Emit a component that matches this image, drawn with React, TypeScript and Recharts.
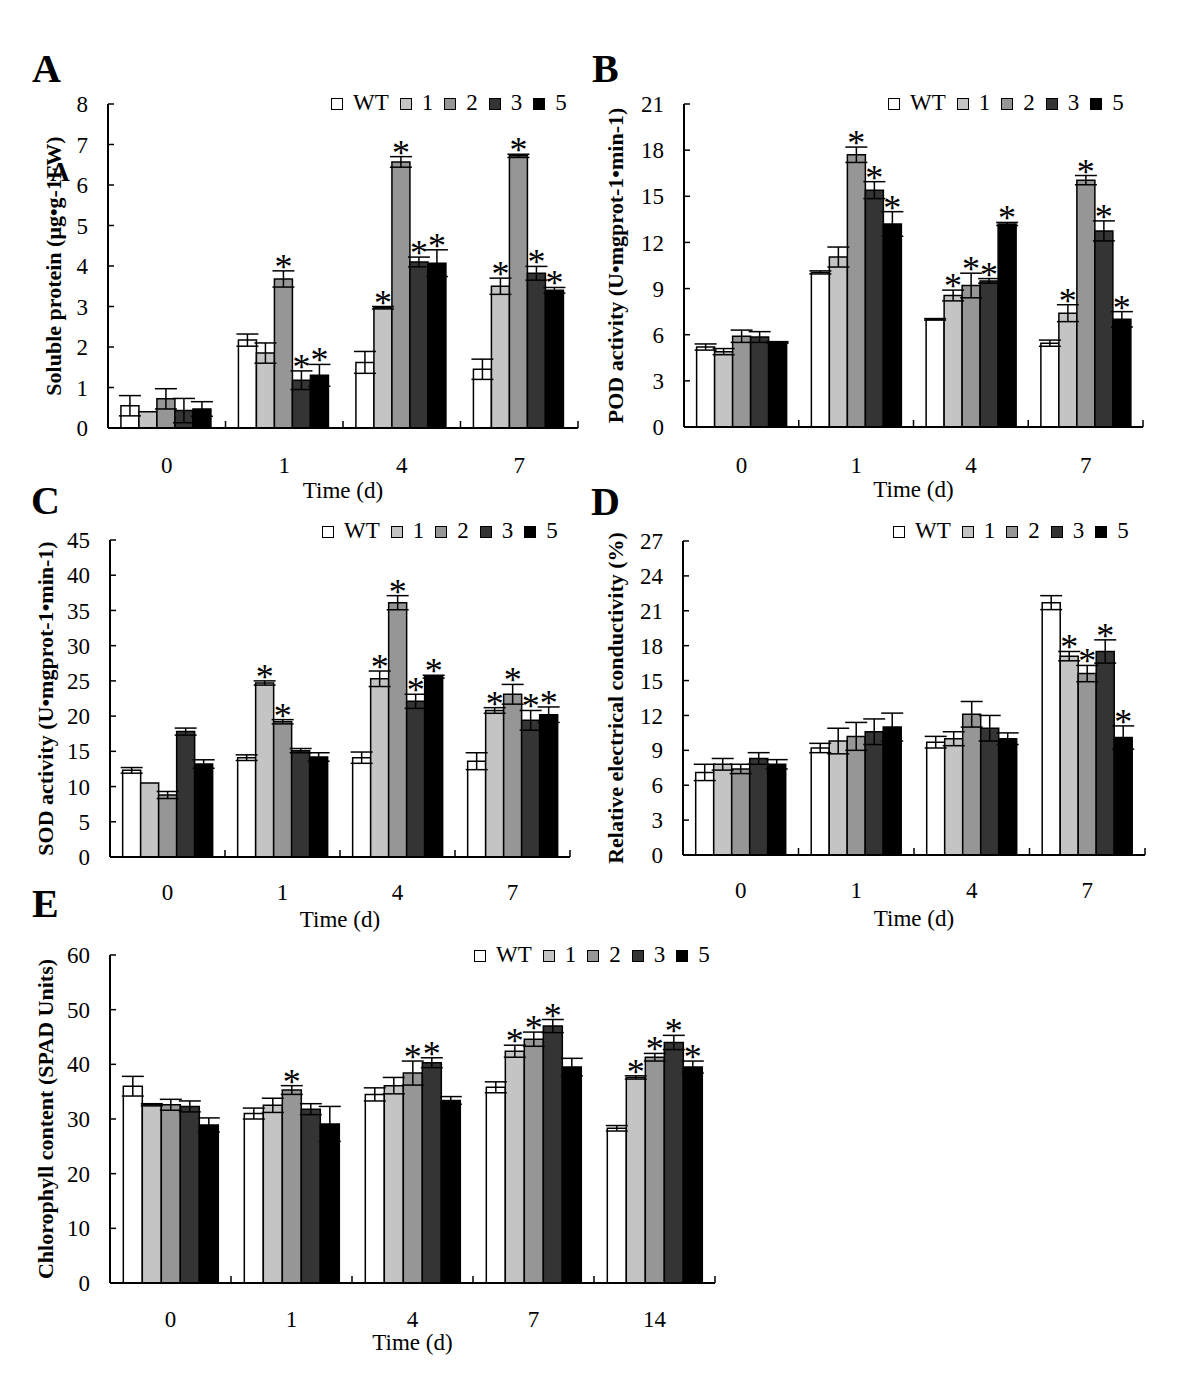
import React from 'react'
import { BarChart, Bar, XAxis, YAxis, ErrorBar, LabelList } from 'recharts'

const FONT = "'Liberation Serif', 'Times New Roman', serif"

const lines = ['WT', '1', '2', '3', '5']
const fills = ['#ffffff', '#c4c4c4', '#969696', '#343434', '#000000']

const days = ['0', '1', '4', '7']
const daysE = ['0', '1', '4', '7', '14']

// rows = lines (WT, 1, 2, 3, 5), columns = days
const proteinMean = [
  [0.55, 2.17, 1.62, 1.45],
  [0.4, 1.85, 2.97, 3.5],
  [0.72, 3.68, 6.57, 6.72],
  [0.43, 1.18, 4.1, 3.82],
  [0.47, 1.3, 4.07, 3.4],
]
const proteinErr = [
  [0.25, 0.15, 0.27, 0.25],
  [0, 0.25, 0.03, 0.2],
  [0.25, 0.2, 0.13, 0.04],
  [0.3, 0.23, 0.12, 0.17],
  [0.18, 0.27, 0.33, 0.07],
]
const proteinSig = [
  [0, 0, 0, 0],
  [0, 0, 1, 1],
  [0, 1, 1, 1],
  [0, 1, 1, 1],
  [0, 1, 1, 1],
]
const proteinTicks = [0, 1, 2, 3, 4, 5, 6, 7, 8]

const podMean = [
  [5.2, 10.05, 7.0, 5.45],
  [4.9, 11.05, 8.55, 7.4],
  [5.9, 17.7, 9.2, 16.05],
  [5.85, 15.4, 9.5, 12.75],
  [5.5, 13.2, 13.2, 7.0],
]
const podErr = [
  [0.2, 0.1, 0.05, 0.2],
  [0.2, 0.65, 0.35, 0.55],
  [0.4, 0.5, 0.8, 0.3],
  [0.35, 0.55, 0.15, 0.65],
  [0.05, 0.8, 0.1, 0.5],
]
const podSig = [
  [0, 0, 0, 0],
  [0, 0, 1, 1],
  [0, 1, 1, 1],
  [0, 1, 1, 1],
  [0, 1, 1, 1],
]
const podTicks = [0, 3, 6, 9, 12, 15, 18, 21]

const sodMean = [
  [12.3, 14.1, 14.1, 13.6],
  [10.5, 24.7, 25.3, 20.8],
  [8.8, 19.2, 36.1, 23.1],
  [17.8, 15.1, 22.1, 19.4],
  [13.2, 14.2, 25.6, 20.2],
]
const sodErr = [
  [0.4, 0.4, 0.8, 1.2],
  [0, 0.3, 1.1, 0.4],
  [0.5, 0.3, 1.0, 1.4],
  [0.5, 0.3, 1.0, 1.4],
  [0.6, 0.6, 0.2, 1.1],
]
const sodSig = [
  [0, 0, 0, 0],
  [0, 1, 1, 1],
  [0, 1, 1, 1],
  [0, 0, 1, 1],
  [0, 0, 1, 1],
]
const sodTicks = [0, 5, 10, 15, 20, 25, 30, 35, 40, 45]

const recMean = [
  [7.1, 9.2, 9.7, 21.7],
  [7.8, 9.8, 10.0, 17.1],
  [7.4, 10.2, 12.1, 15.6],
  [8.3, 10.6, 10.9, 17.5],
  [7.8, 11.0, 10.0, 10.1],
]
const recErr = [
  [0.7, 0.4, 0.5, 0.6],
  [0.5, 1.1, 0.6, 0.4],
  [0.4, 1.2, 1.1, 0.7],
  [0.5, 1.1, 1.1, 1.0],
  [0.4, 1.2, 0.5, 1.0],
]
const recSig = [
  [0, 0, 0, 0],
  [0, 0, 0, 1],
  [0, 0, 0, 1],
  [0, 0, 0, 1],
  [0, 0, 0, 1],
]
const recTicks = [0, 3, 6, 9, 12, 15, 18, 21, 24, 27]

const chlMean = [
  [36.0, 31.0, 34.5, 35.8, 28.3],
  [32.6, 32.5, 36.1, 42.4, 37.6],
  [32.6, 35.3, 38.4, 44.6, 41.3],
  [32.3, 31.8, 40.3, 47.0, 44.0],
  [28.9, 29.1, 33.4, 39.5, 39.5],
]
const chlErr = [
  [1.8, 1.0, 1.2, 1.0, 0.5],
  [0.2, 1.3, 1.5, 1.1, 0.3],
  [1.0, 0.8, 2.2, 1.3, 0.7],
  [1.0, 1.0, 0.9, 1.2, 1.3],
  [1.3, 3.2, 0.7, 1.6, 1.1],
]
const chlSig = [
  [0, 0, 0, 0, 0],
  [0, 0, 0, 1, 1],
  [0, 1, 1, 1, 1],
  [0, 0, 1, 1, 1],
  [0, 0, 0, 0, 1],
]
const chlTicks = [0, 10, 20, 30, 40, 50, 60]

function buildRows(cats: string[], mean: number[][], err: number[][], sig: number[][]) {
  return cats.map((d, j) => {
    const row: any = { day: d }
    lines.forEach((_, k) => {
      row['m' + k] = mean[k][j]
      row['e' + k] = err[k][j]
      row['s' + k] = sig[k][j]
    })
    return row
  })
}

type Box = { x: number; y: number; w: number; h: number }
type Plot = { l: number; t: number; r: number; b: number }

interface PanelProps {
  box: Box
  plot: Plot
  rows: any[]
  ticks: number[]
  yLabel: string
  yLabelX: number
  tickY: number
  titleY: number
  legendX: number
  legendY: number
}

const Y_W = 60
const X_H = 60
const TXT = 23

function Panel({ box, plot, rows, ticks, yLabel, yLabelX, tickY, titleY, legendX, legendY }: PanelProps) {
  const margin = {
    left: plot.l - box.x - Y_W,
    top: plot.t - box.y,
    right: box.x + box.w - plot.r,
    bottom: box.y + box.h - plot.b - X_H,
  }
  const half = (plot.r - plot.l) / rows.length / 2
  const axisY = plot.b - box.y

  // asterisk sitting on top of the error bar cap
  const star = (k: number) => (p: any) => {
    const row = rows[p.index]
    if (!row || !row['s' + k]) return null
    const vb = p.viewBox || p
    const x = Number(vb.x ?? p.x)
    const y = Number(vb.y ?? p.y)
    const w = Number(vb.width ?? p.width)
    const h = Number(vb.height ?? p.height)
    const v = row['m' + k]
    const errPx = v > 0 ? (row['e' + k] * Math.abs(h)) / v : 0
    const top = Math.min(y, y + h) - errPx
    return (
      <text x={x + w / 2} y={top + 8} textAnchor="middle" fontSize={36} fontFamily={FONT} fill="#000">
        *
      </text>
    )
  }

  return (
    <>
      <div style={{ position: 'absolute', left: box.x, top: box.y }}>
        <BarChart
          width={box.w}
          height={box.h}
          data={rows}
          margin={margin}
          barCategoryGap="11%"
          barGap={0}
        >
          <XAxis
            dataKey="day"
            height={X_H}
            axisLine={{ stroke: '#000', strokeWidth: 2 }}
            tickLine={false}
            interval={0}
            tick={(p: any) => (
              <g key={'t' + p.index}>
                <line x1={p.x + half} x2={p.x + half} y1={axisY} y2={axisY - 7} stroke="#000" strokeWidth={1.5} />
                <text x={p.x} y={tickY - box.y + 8} textAnchor="middle" fontSize={TXT} fontFamily={FONT} fill="#000">
                  {p.payload.value}
                </text>
              </g>
            )}
            label={() => (
              <text
                x={(plot.l + plot.r) / 2 - box.x}
                y={titleY - box.y + 7}
                textAnchor="middle"
                fontSize={TXT}
                fontFamily={FONT}
                fill="#000"
              >
                Time (d)
              </text>
            )}
          />
          <YAxis
            width={Y_W}
            type="number"
            domain={[0, ticks[ticks.length - 1]]}
            ticks={ticks}
            interval={0}
            axisLine={{ stroke: '#000', strokeWidth: 2 }}
            tickLine={{ stroke: '#000', strokeWidth: 1.5 }}
            tickSize={-6}
            tickMargin={26}
            tick={{ fill: '#000', fontSize: TXT, fontFamily: FONT }}
            label={() => {
              const cx = yLabelX - box.x
              const cy = (plot.t + plot.b) / 2 - box.y
              return (
                <text
                  x={cx}
                  y={cy}
                  transform={`rotate(-90 ${cx} ${cy})`}
                  textAnchor="middle"
                  dominantBaseline="central"
                  fontSize={22}
                  fontWeight="bold"
                  fontFamily={FONT}
                  fill="#000"
                >
                  {yLabel}
                </text>
              )
            }}
          />
          {lines.map((name, k) => (
            <Bar
              key={name}
              dataKey={'m' + k}
              name={name}
              fill={fills[k]}
              stroke="#000"
              strokeWidth={1.5}
              isAnimationActive={false}
            >
              <ErrorBar dataKey={'e' + k} width={11} stroke="#000" strokeWidth={1.5} />
              <LabelList dataKey={'m' + k} content={star(k)} />
            </Bar>
          ))}
        </BarChart>
      </div>
      <div
        style={{
          position: 'absolute',
          left: legendX,
          top: legendY - 12,
          height: 24,
          display: 'flex',
          alignItems: 'center',
          fontFamily: FONT,
          fontSize: TXT,
          lineHeight: '24px',
          color: '#000',
          whiteSpace: 'nowrap',
        }}
      >
        {lines.map((name, k) => (
          <div key={name} style={{ display: 'flex', alignItems: 'center', marginRight: k < lines.length - 1 ? 11 : 0 }}>
            <span
              style={{
                width: 10,
                height: 10,
                border: '1.5px solid #000',
                background: fills[k],
                marginRight: 10,
                marginTop: 2,
                display: 'inline-block',
              }}
            />
            <span>{name}</span>
          </div>
        ))}
      </div>
    </>
  )
}

const letters = [
  { t: 'A', x: 32, y: 82 },
  { t: 'B', x: 592, y: 82 },
  { t: 'C', x: 31, y: 514 },
  { t: 'D', x: 591, y: 515 },
  { t: 'E', x: 32, y: 917 },
]

export default function App() {
  return (
    <div style={{ position: 'absolute', left: 0, top: 0, width: 1200, height: 1381, background: '#fff', fontFamily: FONT }}>
      <Panel
        box={{ x: 0, y: 40, w: 600, h: 470 }}
        plot={{ l: 108, t: 104, r: 578, b: 428 }}
        rows={buildRows(days, proteinMean, proteinErr, proteinSig)}
        ticks={proteinTicks}
        yLabel="Soluble protein (μg•g-1FW)"
        yLabelX={53}
        tickY={465}
        titleY={491}
        legendX={331}
        legendY={103}
      />
      <Panel
        box={{ x: 590, y: 40, w: 600, h: 470 }}
        plot={{ l: 684, t: 104, r: 1143, b: 427 }}
        rows={buildRows(days, podMean, podErr, podSig)}
        ticks={podTicks}
        yLabel="POD activity (U•mgprot-1•min-1)"
        yLabelX={615}
        tickY={465}
        titleY={490}
        legendX={888}
        legendY={103}
      />
      <Panel
        box={{ x: 0, y: 510, w: 600, h: 430 }}
        plot={{ l: 110, t: 540, r: 570, b: 857 }}
        rows={buildRows(days, sodMean, sodErr, sodSig)}
        ticks={sodTicks}
        yLabel="SOD activity (U•mgprot-1•min-1)"
        yLabelX={45}
        tickY={892}
        titleY={920}
        legendX={322}
        legendY={531}
      />
      <Panel
        box={{ x: 590, y: 510, w: 600, h: 430 }}
        plot={{ l: 683, t: 541, r: 1145, b: 855 }}
        rows={buildRows(days, recMean, recErr, recSig)}
        ticks={recTicks}
        yLabel="Relative electrical conductivity (%)"
        yLabelX={615}
        tickY={890}
        titleY={919}
        legendX={893}
        legendY={531}
      />
      <Panel
        box={{ x: 0, y: 930, w: 760, h: 440 }}
        plot={{ l: 110, t: 955, r: 715, b: 1283 }}
        rows={buildRows(daysE, chlMean, chlErr, chlSig)}
        ticks={chlTicks}
        yLabel="Chlorophyll content (SPAD Units)"
        yLabelX={45}
        tickY={1319}
        titleY={1343}
        legendX={474}
        legendY={955}
      />
      <svg width={1200} height={1381} style={{ position: 'absolute', left: 0, top: 0, pointerEvents: 'none' }}>
        {letters.map((l) => (
          <text key={l.t} x={l.x} y={l.y} fontSize={40} fontWeight="bold" fontFamily={FONT} fill="#000">
            {l.t}
          </text>
        ))}
        <text x={60} y={181} textAnchor="middle" fontSize={27} fontWeight="bold" fontFamily={FONT} fill="#000">
          A
        </text>
      </svg>
    </div>
  )
}
